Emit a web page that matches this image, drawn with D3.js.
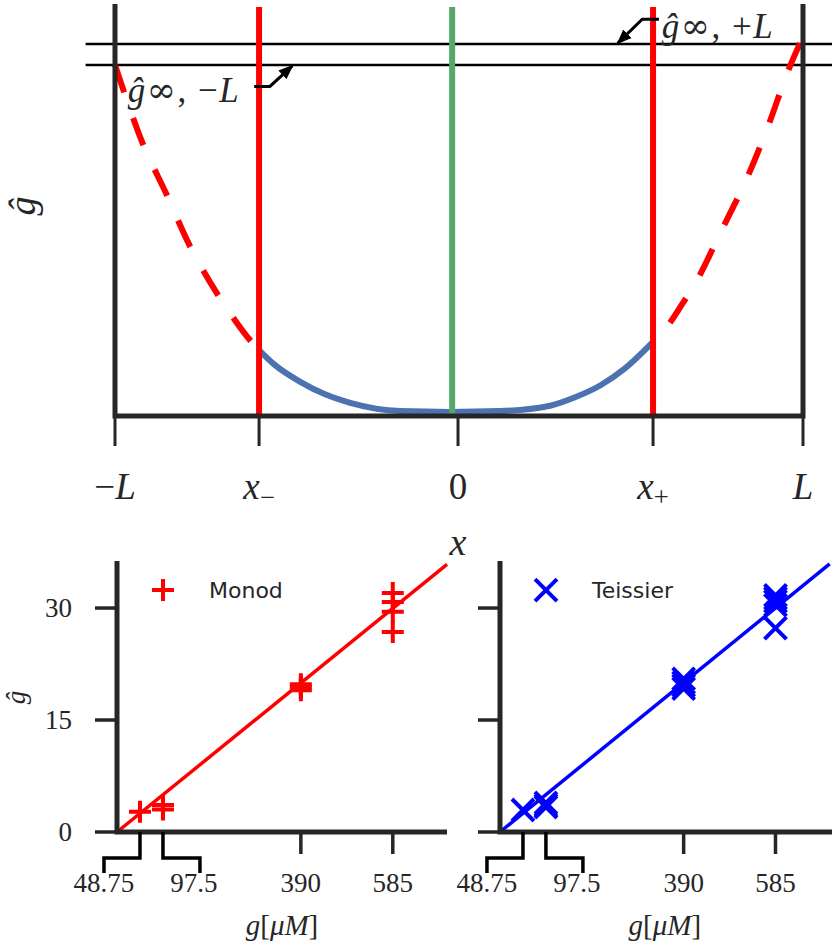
<!DOCTYPE html>
<html>
<head>
<meta charset="utf-8">
<script src="https://cdn.jsdelivr.net/npm/d3@7"></script>
<style>
  body { margin: 0; background: #fff; }
  svg { display: block; }
</style>
</head>
<body>
<svg id="chart" width="832" height="944"></svg>
<script>
// ---- top panel data (x in arbitrary units, ghat normalised) ----
var topTickVals = [-3.5, -2.03, 0, 1.99, 3.52];
var topTickLabels = ["−L", "x_−", "0", "x_+", "L"];
var xMinus = -2.03, xPlus = 1.99, xCentre = -0.06;
var gInfMinusL = 0.852, gInfPlusL = 0.903;

var coreX = [-2.03, -1.87, -1.61, -1.35, -1.10, -0.59, -0.08, 0.43, 0.94, 1.20, 1.45, 1.70, 1.99];
var coreG = [0.160, 0.124, 0.083, 0.052, 0.032, 0.012, 0.010, 0.012, 0.025, 0.046, 0.074, 0.115, 0.180];

var leftTailX = [-3.5, -3.22, -2.97, -2.73, -2.45, -2.15, -2.03];
var leftTailG = [0.852, 0.663, 0.536, 0.410, 0.294, 0.192, 0.160];

var rightTailX = [3.49, 3.36, 3.16, 2.94, 2.69, 2.44, 2.28, 2.13, 1.99];
var rightTailG = [0.905, 0.833, 0.701, 0.573, 0.451, 0.330, 0.269, 0.216, 0.180];

// ---- bottom panels data ----
var gTicks = [48.75, 97.5, 390, 585];
var rateTicks = [0, 15, 30];

var monodG    = [48.75, 97.5, 97.5, 390, 390, 390, 585, 585, 585, 585];
var monodRate = [2.7, 3.0, 3.6, 19.0, 19.4, 19.8, 26.8, 29.5, 30.8, 32.0];
var monodSlope = 0.0512;

var teissierG    = [48.75, 97.5, 97.5, 97.5, 390, 390, 390, 390, 585, 585, 585, 585, 585];
var teissierRate = [2.95, 3.35, 3.6, 3.9, 19.2, 19.6, 20.0, 20.5, 27.3, 30.4, 30.9, 31.3, 31.7];
var teissierSlope = 0.0513;

var fitRange = [0, 700];

var ink = "#262626";
var serif = "'Liberation Serif', 'DejaVu Serif', serif";
var svg = d3.select("#chart");

// italic letters, "_" makes next glyph a subscript
function mathText(sel, str) {
    var sub = false;
    for (var i = 0; i < str.length; i++) {
        var ch = str[i];
        if (ch === "_") { sub = true; continue; }
        var ts = sel.append("tspan").text(ch);
        if (/[A-Za-zĝμ]/.test(ch)) ts.attr("font-style", "italic");
        if (ch === "∞") ts.attr("font-family", "'DejaVu Serif', serif");
        if (sub) { ts.attr("font-size", "72%").attr("dy", "0.28em"); sub = false; }
    }
    return sel;
}

// ================= top panel =================
var x0 = d3.scaleLinear().domain([-3.5, 3.52]).range([115, 803]);
var y0 = d3.scaleLinear().domain([0, 1]).range([416, 4]);

var topG = svg.append("g");

// asymptote lines, drawn past the axes
[gInfMinusL, gInfPlusL].forEach(function (v) {
    topG.append("line")
        .attr("x1", x0(-3.8)).attr("x2", x0(3.82))
        .attr("y1", y0(v)).attr("y2", y0(v))
        .attr("stroke", "#000").attr("stroke-width", 2.5);
});

var smooth = d3.line()
    .x(function (d) { return x0(d[0]); })
    .y(function (d) { return y0(d[1]); })
    .curve(d3.curveMonotoneX);

var tail = d3.line()
    .x(function (d) { return x0(d[0]); })
    .y(function (d) { return y0(d[1]); })
    .curve(d3.curveCatmullRom.alpha(0.5));

topG.append("path")
    .attr("d", smooth(d3.zip(coreX, coreG)))
    .attr("fill", "none").attr("stroke", "#4c72b0").attr("stroke-width", 6);

[d3.zip(leftTailX, leftTailG), d3.zip(rightTailX, rightTailG)].forEach(function (pts) {
    topG.append("path")
        .attr("d", tail(pts))
        .attr("fill", "none").attr("stroke", "#ff0000").attr("stroke-width", 6)
        .attr("stroke-dasharray", "29,27");
});

[xMinus, xPlus].forEach(function (v) {
    topG.append("line")
        .attr("x1", x0(v)).attr("x2", x0(v))
        .attr("y1", y0(0)).attr("y2", y0(0.993))
        .attr("stroke", "#ff0000").attr("stroke-width", 6);
});
topG.append("line")
    .attr("x1", x0(xCentre)).attr("x2", x0(xCentre))
    .attr("y1", y0(0.005)).attr("y2", y0(0.993))
    .attr("stroke", "#55a868").attr("stroke-width", 6);

// spines
topG.append("path")
    .attr("d", "M" + x0(-3.5) + "," + y0(1) + "V" + y0(0) + "H" + x0(3.52) + "V" + y0(1))
    .attr("fill", "none").attr("stroke", ink).attr("stroke-width", 5);

// ticks + labels
topTickVals.forEach(function (v, i) {
    topG.append("line")
        .attr("x1", x0(v)).attr("x2", x0(v))
        .attr("y1", y0(0)).attr("y2", y0(0) + 30)
        .attr("stroke", ink).attr("stroke-width", 3);
    var t = topG.append("text")
        .attr("x", x0(v)).attr("y", 499)
        .attr("text-anchor", "middle")
        .attr("font-family", serif).attr("font-size", 37).attr("fill", ink);
    mathText(t, topTickLabels[i]);
});

mathText(svg.append("text")
    .attr("x", x0(0)).attr("y", 555).attr("text-anchor", "middle")
    .attr("font-family", serif).attr("font-size", 38).attr("fill", ink), "x");

mathText(svg.append("text")
    .attr("transform", "translate(35," + y0(0.51) + ") rotate(-90)")
    .attr("text-anchor", "middle")
    .attr("font-family", serif).attr("font-size", 38).attr("fill", ink), "ĝ");

// annotations
var defs = svg.append("defs");
defs.append("marker")
    .attr("id", "head").attr("viewBox", "0 0 10 10")
    .attr("refX", 9).attr("refY", 5)
    .attr("markerWidth", 5).attr("markerHeight", 5)
    .attr("orient", "auto")
    .append("path").attr("d", "M0,1L10,5L0,9z").attr("fill", "#000");

var notes = [
    { label: "ĝ∞, −L", tx: -3.37, ty: 0.762, start: [-2.08, 0.800], bend: [-1.92, 0.800], tip: [-1.69, 0.850] },
    { label: "ĝ∞, +L", tx: 2.08, ty: 0.917, start: [2.05, 0.963], bend: [1.88, 0.963], tip: [1.63, 0.905] }
];
notes.forEach(function (n) {
    var t = svg.append("text")
        .attr("x", x0(n.tx)).attr("y", y0(n.ty))
        .attr("font-family", serif).attr("font-size", 35).attr("fill", ink)
        .attr("letter-spacing", 1.5)
        .style("white-space", "pre");
    mathText(t, n.label);
    svg.append("path")
        .attr("d", d3.line()([[x0(n.start[0]), y0(n.start[1])], [x0(n.bend[0]), y0(n.bend[1])], [x0(n.tip[0]), y0(n.tip[1])]]))
        .attr("fill", "none").attr("stroke", "#000").attr("stroke-width", 3)
        .attr("marker-end", "url(#head)");
});

// ================= bottom panels =================
var yB = d3.scaleLinear().domain([0, 36.3]).range([832, 561]);

var plusPath = "M-11,0H11M0,-11V11";
var crossPath = "M-11,-11L11,11M-11,11L11,-11";

function drawPanel(xS, gs, rates, slope, color, shape, name, withLabels) {
    var g = svg.append("g");
    var xo = xS(0), yo = yB(0);

    // fitted line
    g.append("line")
        .attr("x1", xS(fitRange[0])).attr("y1", yB(fitRange[0] * slope))
        .attr("x2", xS(fitRange[1])).attr("y2", yB(fitRange[1] * slope))
        .attr("stroke", color).attr("stroke-width", 3.5);

    // data markers
    g.selectAll("path.pt")
        .data(d3.zip(gs, rates))
        .enter().append("path")
        .attr("class", "pt")
        .attr("d", shape)
        .attr("transform", function (d) { return "translate(" + xS(d[0]) + "," + yB(d[1]) + ")"; })
        .attr("fill", "none").attr("stroke", color).attr("stroke-width", 4);

    // spines
    g.append("path")
        .attr("d", "M" + xo + "," + yB(36.3) + "V" + yo + "H" + xS.range()[1])
        .attr("fill", "none").attr("stroke", ink).attr("stroke-width", 5);

    // y ticks
    rateTicks.forEach(function (v) {
        g.append("line")
            .attr("x1", xo - 22).attr("x2", xo)
            .attr("y1", yB(v)).attr("y2", yB(v))
            .attr("stroke", ink).attr("stroke-width", 3.5);
        if (withLabels) {
            g.append("text")
                .attr("x", xo - 45).attr("y", yB(v)).attr("dy", "0.33em")
                .attr("text-anchor", "end")
                .attr("font-family", serif).attr("font-size", 27).attr("fill", ink)
                .text(v);
        }
    });

    // x ticks; the two crowded ones get bracket leaders
    gTicks.forEach(function (v, i) {
        var tx = xS(v), shift = 0, d;
        if (i === 0) {
            shift = -36;
            d = "M" + tx + "," + yo + "V858H" + (tx + shift) + "V873";
        } else if (i === 1) {
            shift = 37;
            d = "M" + tx + "," + yo + "V858H" + (tx + shift) + "V873";
        } else {
            d = "M" + tx + "," + yo + "V854";
        }
        g.append("path").attr("d", d)
            .attr("fill", "none").attr("stroke", i < 2 ? "#000" : ink).attr("stroke-width", 3.5);
        g.append("text")
            .attr("x", tx + (i === 1 ? 31 : shift)).attr("y", 892)
            .attr("text-anchor", "middle")
            .attr("font-family", serif).attr("font-size", 27).attr("fill", ink)
            .text(v);
    });

    mathText(g.append("text")
        .attr("x", xS(350)).attr("y", 935).attr("text-anchor", "middle")
        .attr("font-family", serif).attr("font-size", 29).attr("fill", ink), "g[μM]");

    // legend
    g.append("path").attr("d", shape)
        .attr("transform", "translate(" + (xo + 46) + "," + yB(32.4) + ")")
        .attr("fill", "none").attr("stroke", color).attr("stroke-width", 4);
    g.append("text")
        .attr("x", xo + 92).attr("y", yB(32.4) + 8)
        .attr("font-family", "'DejaVu Sans', sans-serif").attr("font-size", 22).attr("fill", ink)
        .text(name);
}

var xLeft = d3.scaleLinear().domain([0, 700]).range([117, 447]);
var xRight = d3.scaleLinear().domain([0, 705]).range([500, 832]);

drawPanel(xLeft, monodG, monodRate, monodSlope, "#ff0000", plusPath, "Monod", true);
drawPanel(xRight, teissierG, teissierRate, teissierSlope, "#0000ff", crossPath, "Teissier", false);

mathText(svg.append("text")
    .attr("transform", "translate(25," + yB(18) + ") rotate(-90)")
    .attr("text-anchor", "middle")
    .attr("font-family", serif).attr("font-size", 27).attr("fill", ink), "ĝ");
</script>
</body>
</html>
